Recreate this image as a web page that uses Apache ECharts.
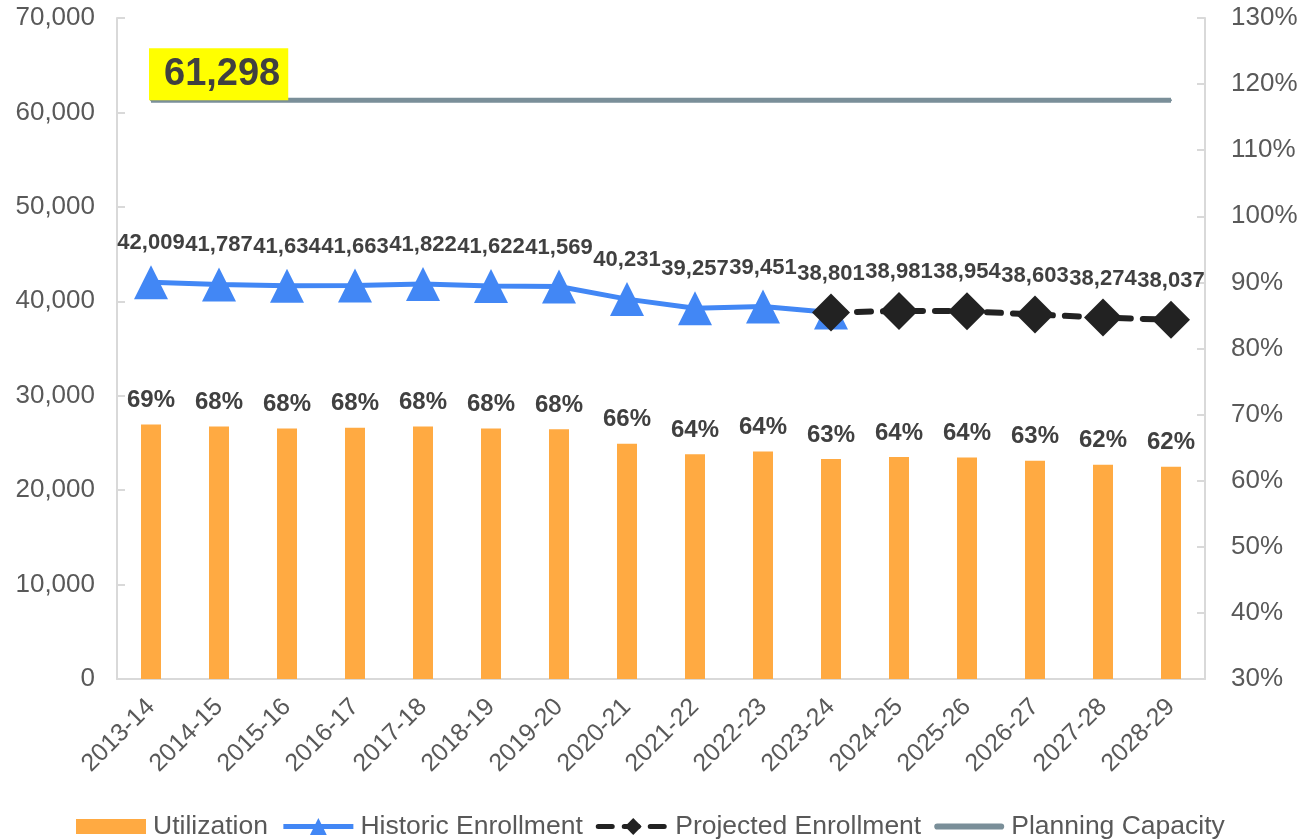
<!DOCTYPE html>
<html>
<head>
<meta charset="utf-8">
<script src="https://cdn.jsdelivr.net/npm/echarts@6/dist/echarts.min.js"></script>
<style>html,body{margin:0;padding:0;background:#fff}#c{width:1301px;height:840px}</style>
</head>
<body>
<div id="c"></div>
<script>
const categories = ['2013-14','2014-15','2015-16','2016-17','2017-18','2018-19','2019-20','2020-21','2021-22','2022-23','2023-24','2024-25','2025-26','2026-27','2027-28','2028-29'];
const utilization = [68.5, 68.2, 67.9, 68.0, 68.2, 67.9, 67.8, 65.6, 64.0, 64.4, 63.3, 63.6, 63.5, 63.0, 62.4, 62.1];
const historic = [42009, 41787, 41634, 41663, 41822, 41622, 41569, 40231, 39257, 39451, 38801, null, null, null, null, null];
const projected = [null, null, null, null, null, null, null, null, null, null, 38801, 38981, 38954, 38603, 38274, 38037];
const capacity = [61298, 61298, 61298, 61298, 61298, 61298, 61298, 61298, 61298, 61298, 61298, 61298, 61298, 61298, 61298, 61298];
const leftTicks = {min: 0, max: 70000, interval: 10000};
const rightTicks = {min: 30, max: 130, interval: 10};

const FONT = 'Liberation Sans, Arial, sans-serif';
const fmt = v => v.toLocaleString('en-US');
const chart = echarts.init(document.getElementById('c'), null, {renderer: 'canvas'});

const dataLabel = {
  show: true, position: 'top', distance: 11,
  color: '#404040', fontWeight: 'bold', fontSize: 22, fontFamily: FONT,
  formatter: p => fmt(p.value)
};

chart.setOption({
  animation: false,
  textStyle: {fontFamily: FONT},
  grid: {left: 117, right: 96, top: 18, bottom: 161, containLabel: false},
  legend: {
    top: 808, left: 71, padding: 5, itemWidth: 70, itemHeight: 21, itemGap: 13,
    textStyle: {color: '#595959', fontSize: 26.5, fontFamily: FONT, padding: [0, 0, 0, 2]},
    lineStyle: {width: 5},
    data: [
      {name: 'Utilization', icon: 'path://M0,0 h66 v14 h-66 z'},
      {name: 'Historic Enrollment'},
      {name: 'Projected Enrollment'},
      {name: 'Planning Capacity', icon: 'path://M3,0 h62 a3,3 0 0 1 0,6 h-62 a3,3 0 0 1 0,-6 z'}
    ]
  },
  xAxis: {
    type: 'category', data: categories, boundaryGap: true,
    axisLine: {lineStyle: {color: '#d9d9d9', width: 2}},
    axisTick: {show: false},
    axisLabel: {rotate: 45, color: '#595959', fontSize: 25, fontFamily: FONT, margin: 24, interval: 0}
  },
  yAxis: [
    {
      type: 'value', min: leftTicks.min, max: leftTicks.max, interval: leftTicks.interval,
      axisLine: {show: true, lineStyle: {color: '#d9d9d9', width: 2}},
      axisTick: {show: true, inside: true, length: 8, lineStyle: {color: '#d9d9d9', width: 2}},
      splitLine: {show: false},
      axisLabel: {color: '#595959', fontSize: 26, fontFamily: FONT, margin: 22, formatter: v => fmt(v)}
    },
    {
      type: 'value', min: rightTicks.min, max: rightTicks.max, interval: rightTicks.interval,
      position: 'right',
      axisLine: {show: true, lineStyle: {color: '#d9d9d9', width: 2}},
      axisTick: {show: true, inside: true, length: 8, lineStyle: {color: '#d9d9d9', width: 2}},
      splitLine: {show: false},
      axisLabel: {color: '#595959', fontSize: 26, fontFamily: FONT, margin: 26, formatter: '{value}%'}
    }
  ],
  series: [
    {
      name: 'Utilization', type: 'bar', yAxisIndex: 1, data: utilization, barWidth: 20,
      itemStyle: {color: '#FFAA42'},
      label: {show: true, position: 'top', distance: 12, color: '#404040', fontWeight: 'bold', fontSize: 24, fontFamily: FONT,
        formatter: p => Math.round(p.value) + '%'}
    },
    {
      name: 'Planning Capacity', type: 'line', yAxisIndex: 0,
      data: capacity.map((v, i) => i === 0 ? {
        value: v,
        label: {show: true, position: [-1, -51], backgroundColor: '#FFFF00', padding: [6, 8, 6, 15],
          color: '#404040', fontWeight: 'bold', fontSize: 38, lineHeight: 40, fontFamily: FONT,
          formatter: p => fmt(p.value)}
      } : v),
      symbol: 'circle', symbolSize: 2, showAllSymbol: true,
      lineStyle: {color: '#7A8F99', width: 5},
      itemStyle: {color: '#7A8F99'},
      label: {show: false},
      z: 3
    },
    {
      name: 'Historic Enrollment', type: 'line', yAxisIndex: 0, data: historic,
      symbol: 'triangle', symbolSize: 34,
      lineStyle: {color: '#4287F5', width: 5},
      itemStyle: {color: '#4287F5'},
      label: dataLabel, z: 4
    },
    {
      name: 'Projected Enrollment', type: 'line', yAxisIndex: 0,
      data: projected.map((v, i) => i === 10 ? {value: v, label: {show: false}} : v),
      symbol: 'diamond', symbolSize: 38,
      lineStyle: {color: '#222222', width: 6, type: [14, 12], cap: 'round'},
      itemStyle: {color: '#222222'},
      label: Object.assign({}, dataLabel, {distance: 9}), z: 5
    }
  ]
});
</script>
</body>
</html>
